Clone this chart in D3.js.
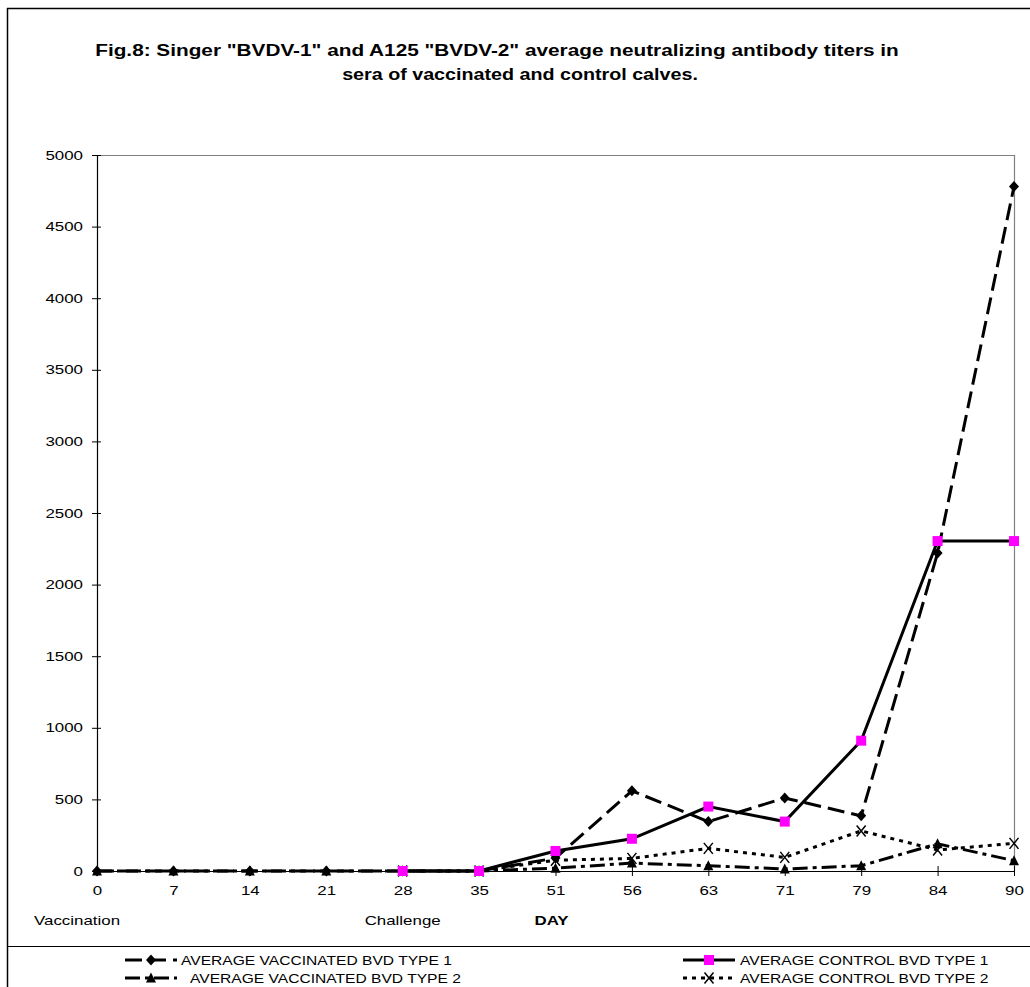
<!DOCTYPE html>
<html>
<head>
<meta charset="utf-8">
<script src="https://cdn.jsdelivr.net/npm/d3@7"></script>
<style>
  html, body { margin: 0; padding: 0; background: #fff; }
  svg { display: block; font-family: "Liberation Sans", Arial, sans-serif; }
</style>
</head>
<body>
<svg id="chart" width="1030" height="987"></svg>
<script>
// Sampling days (categorical axis) and average neutralizing antibody titers
const days = ["0", "7", "14", "21", "28", "35", "51", "56", "63", "71", "79", "84", "90"];
const vaccinatedType1 = [0, 0, 0, 0, 0, 0, 90, 560, 345, 510, 385, 2220, 4780];
const controlType1    = [null, null, null, null, 0, 0, 140, 225, 450, 345, 910, 2304, 2304];
const vaccinatedType2 = [0, 0, 0, 0, 0, 0, 20, 55, 37, 14, 37, 190, 72];
const controlType2    = [null, null, null, null, 0, 0, 75, 88, 158, 95, 280, 147, 193];
const yTicks = [0, 500, 1000, 1500, 2000, 2500, 3000, 3500, 4000, 4500, 5000];
const eventLabels = [["0", "Vaccination"], ["28", "Challenge"]];
const titleLines = [
  'Fig.8: Singer "BVDV-1" and A125 "BVDV-2" average neutralizing antibody titers in',
  'sera of vaccinated and control calves.'
];

const series = [
  { name: "AVERAGE VACCINATED BVD TYPE 1", values: vaccinatedType1, dash: "17,7", marker: "diamond", fill: "#000" },
  { name: "AVERAGE CONTROL BVD TYPE 1", values: controlType1, dash: null, marker: "square", fill: "#ff00ff" },
  { name: "AVERAGE VACCINATED BVD TYPE 2", values: vaccinatedType2, dash: "15,5,4,5", marker: "triangle", fill: "#000" },
  { name: "AVERAGE CONTROL BVD TYPE 2", values: controlType2, dash: "4,5", marker: "cross", fill: "none" }
];

// Lettering in this figure is widened horizontally; stretch each text
// element about its own anchor point.
const WIDEN = 1.3;
function widen(sel, k = WIDEN) {
  sel.each(function () {
    const t = d3.select(this);
    const tx = +t.attr("x") || 0;
    const ty = +t.attr("y") || 0;
    t.attr("x", 0).attr("y", 0)
      .attr("transform", `translate(${tx},${ty}) scale(${k},1)`);
  });
  return sel;
}

const svg = d3.select("#chart");
const plot = { left: 97, right: 1014, top: 155, bottom: 871 };

const x = d3.scalePoint().domain(days).range([plot.left, plot.right]);
const y = d3.scaleLinear().domain([0, 5000]).range([plot.bottom, plot.top]);

// outer frame and legend separator
svg.append("line").attr("x1", 7.5).attr("x2", 7.5).attr("y1", 8).attr("y2", 987)
  .attr("stroke", "#000").attr("stroke-width", 1.5);
svg.append("line").attr("x1", 7).attr("x2", 1030).attr("y1", 8.5).attr("y2", 8.5)
  .attr("stroke", "#000").attr("stroke-width", 1.5);
svg.append("line").attr("x1", 7).attr("x2", 1030).attr("y1", 946.5).attr("y2", 946.5)
  .attr("stroke", "#000").attr("stroke-width", 1);

// title (two centred lines, each stretched to its set width)
const titleCentres = [497, 520];
const titleWidths = [804, 356];
svg.selectAll("text.title").data(titleLines).join("text")
  .attr("class", "title")
  .attr("x", (d, i) => titleCentres[i]).attr("y", (d, i) => 56 + i * 24)
  .attr("text-anchor", "middle").attr("font-weight", "bold").attr("font-size", 16)
  .text(d => d)
  .each(function (d, i) {
    const k = titleWidths[i] / this.getComputedTextLength();
    widen(d3.select(this), k);
  });

// plot area border (top and right, grey)
svg.append("path")
  .attr("d", `M${plot.left},${plot.top + 0.5}H${plot.right + 0.5}V${plot.bottom}`)
  .attr("fill", "none").attr("stroke", "#808080").attr("stroke-width", 1.2);

// y axis
const yAxis = d3.axisLeft(y).tickValues(yTicks).tickFormat(d3.format("d"))
  .tickSizeInner(5).tickSizeOuter(0).tickPadding(9);
const gy = svg.append("g").attr("transform", `translate(${plot.left},0)`).call(yAxis);
gy.select(".domain").attr("stroke", "#000").attr("stroke-width", 1.2);
gy.selectAll(".tick line").attr("x2", -5).attr("x1", 4).attr("stroke", "#000");
gy.selectAll(".tick text").attr("font-size", 13).attr("fill", "#000")
  .attr("font-family", "Liberation Sans, Arial, sans-serif").call(widen);

// x axis
const xAxis = d3.axisBottom(x).tickSizeInner(5).tickSizeOuter(0).tickPadding(10);
const gx = svg.append("g").attr("transform", `translate(0,${plot.bottom})`).call(xAxis);
gx.select(".domain").attr("stroke", "#000").attr("stroke-width", 1.2);
gx.selectAll(".tick line").attr("y1", -5).attr("y2", 5).attr("stroke", "#000");
gx.selectAll(".tick text").attr("font-size", 13).attr("fill", "#000")
  .attr("font-family", "Liberation Sans, Arial, sans-serif").call(widen);

// event labels and axis title
svg.selectAll("text.event").data(eventLabels).join("text")
  .attr("class", "event")
  .attr("x", d => x(d[0]) + (d[0] === "0" ? -20 : 0))
  .attr("y", 925).attr("text-anchor", "middle").attr("font-size", 13)
  .text(d => d[1])
  .call(widen);
svg.append("text").attr("x", x("51") - 4).attr("y", 925).attr("text-anchor", "middle")
  .attr("font-size", 13).attr("font-weight", "bold").text("DAY")
  .call(widen);

// marker shapes
function markerPath(type) {
  switch (type) {
    case "diamond": return "M0,-5.5L5,0L0,5.5L-5,0Z";
    case "square": return "M-5,-5H5V5H-5Z";
    case "triangle": return "M0,-5.5L5,4.5H-5Z";
    case "cross": return "M-4.5,-5.5L4.5,5.5M4.5,-5.5L-4.5,5.5";
  }
}
function drawMarker(g, type, fill) {
  const p = g.append("path").attr("d", markerPath(type));
  if (type === "cross") p.attr("fill", "none").attr("stroke", "#000").attr("stroke-width", 1.5);
  else p.attr("fill", fill).attr("stroke", "none");
}

const line = d3.line()
  .defined(d => d.v !== null)
  .x(d => x(d.day)).y(d => y(d.v));

// draw in back-to-front order
const drawOrder = [3, 2, 0, 1];
drawOrder.forEach(i => {
  const s = series[i];
  const pts = days.map((day, k) => ({ day, v: s.values[k] }));
  svg.append("path").datum(pts).attr("d", line)
    .attr("fill", "none").attr("stroke", "#000").attr("stroke-width", 3)
    .attr("stroke-dasharray", s.dash);
});
drawOrder.forEach(i => {
  const s = series[i];
  const pts = days.map((day, k) => ({ day, v: s.values[k] })).filter(d => d.v !== null);
  pts.forEach(d => {
    const g = svg.append("g").attr("transform", `translate(${x(d.day)},${y(d.v)})`);
    drawMarker(g, s.marker, s.fill);
  });
});

// legend
const legendPos = [
  { sx: 125, tx: 181, y: 960 },
  { sx: 683, tx: 740, y: 960 },
  { sx: 125, tx: 190, y: 978 },
  { sx: 683, tx: 740, y: 978 }
];
series.forEach((s, i) => {
  const p = legendPos[i];
  svg.append("line").attr("x1", p.sx).attr("x2", p.sx + 52).attr("y1", p.y).attr("y2", p.y)
    .attr("stroke", "#000").attr("stroke-width", 3).attr("stroke-dasharray", s.dash);
  const g = svg.append("g").attr("transform", `translate(${p.sx + 26},${p.y})`);
  drawMarker(g, s.marker, s.fill);
  svg.append("text").attr("x", p.tx).attr("y", p.y + 4.5).attr("font-size", 12).text(s.name)
    .call(widen);
});
</script>
</body>
</html>
